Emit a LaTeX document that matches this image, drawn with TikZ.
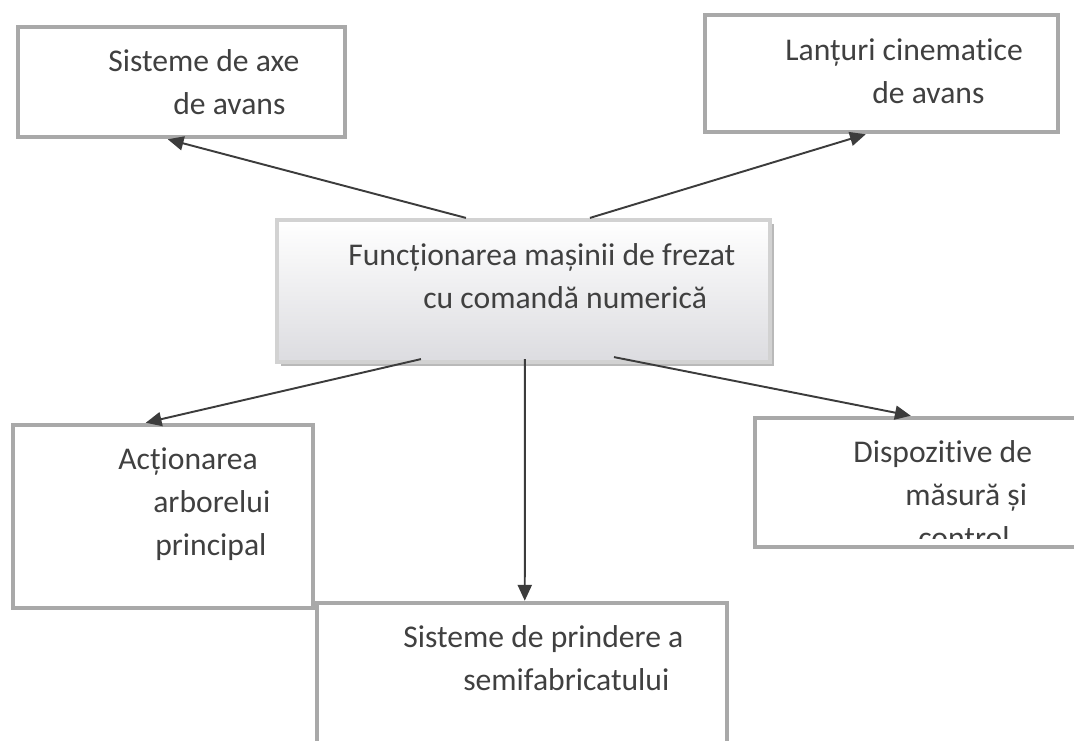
\documentclass[tikz,border=0pt]{standalone}
\usepackage{fontspec}
\setmainfont{Carlito}[Ligatures={NoCommon}]
\usetikzlibrary{arrows.meta,calc,shadows}

\definecolor{boxgray}{HTML}{A9A9A9}
\definecolor{midgray}{HTML}{D2D2D2}
\definecolor{shadegray}{HTML}{B9B9B9}
\definecolor{fillbot}{HTML}{DCDCE0}
\definecolor{txtgray}{HTML}{404040}
\definecolor{arrgray}{HTML}{3C3C3C}

\begin{document}
\begin{tikzpicture}[x=0.02cm,y=-0.02cm,
  box/.style={draw=boxgray, line width=2.6pt, fill=white},
  txt/.style={anchor=north west, align=left, inner sep=0pt, text=txtgray,
    font=\fontsize{18}{24.5}\selectfont},
  arr/.style={-{Triangle[length=9pt,width=8pt]}, line width=1.1pt, draw=arrgray}]
%\draw[step=50,gray,very thin] (0,0) grid (1074,740);
\clip (0,0) rectangle (1074,740);

% boxes
\node[box, minimum width=6.54cm, minimum height=2.2cm] (axe) at (181.5,82) {};
\node[box, minimum width=7.06cm, minimum height=2.34cm] (lant) at (881.5,73.5) {};
\node[box, minimum width=6cm, minimum height=3.66cm] (act) at (163,516.5) {};
\node[box, minimum width=6.9cm, minimum height=2.58cm] (disp) at (927.5,482.5) {};
\node[box, minimum width=8.2cm, minimum height=3.94cm] (prin) at (522,701.5) {};
\node[draw=midgray, line width=2.4pt, top color=white, bottom color=fillbot,
  drop shadow={opacity=1, fill=shadegray, shadow xshift=0.08cm, shadow yshift=-0.08cm},
  minimum width=9.86cm, minimum height=2.84cm] (mid) at (523.5,291) {};

% texts
\node[txt] (axeT) at (108,49) {Sisteme de axe\\\hspace*{1.3cm}de avans};
\node[txt] (lantT) at (785,38) {Lanțuri cinematice\\\hspace*{1.74cm}de avans};
\node[txt] (midT) at (348,243) {Funcționarea mașinii de frezat\\\hspace*{1.5cm}cu comandă numerică};
\node[txt] (actT) at (118,447) {Acționarea\\\hspace*{0.7cm}arborelui\\\hspace*{0.74cm}principal};
\begin{scope}
\clip (757,420) rectangle (1074,538);
\node[txt] (dispT) at (853,440) {Dispozitive de\\\hspace*{1.04cm}măsură și\\\hspace*{1.3cm}control};
\end{scope}
\node[txt] (prinT) at (403,625) {Sisteme de prindere a\\\hspace*{1.2cm}semifabricatului};

% arrows
\draw[arr] ($(mid.north west)+(191,0)$) -- ($(axe.south west)+(152,0)$);
\draw[arr] ($(mid.north west)+(315,0)$) -- ($(lant.south west)+(163,0)$);
\draw[arr] ($(mid.south west)+(146,-5)$) -- ($(act.north west)+(135,0)$);
\draw[arr] ($(mid.south west)+(250,-5)$) -- ($(prin.north west)+(210,0)$);
\draw[arr] ($(mid.south west)+(339,-7)$) -- ($(disp.north west)+(158,0)$);

\end{tikzpicture}
\end{document}
